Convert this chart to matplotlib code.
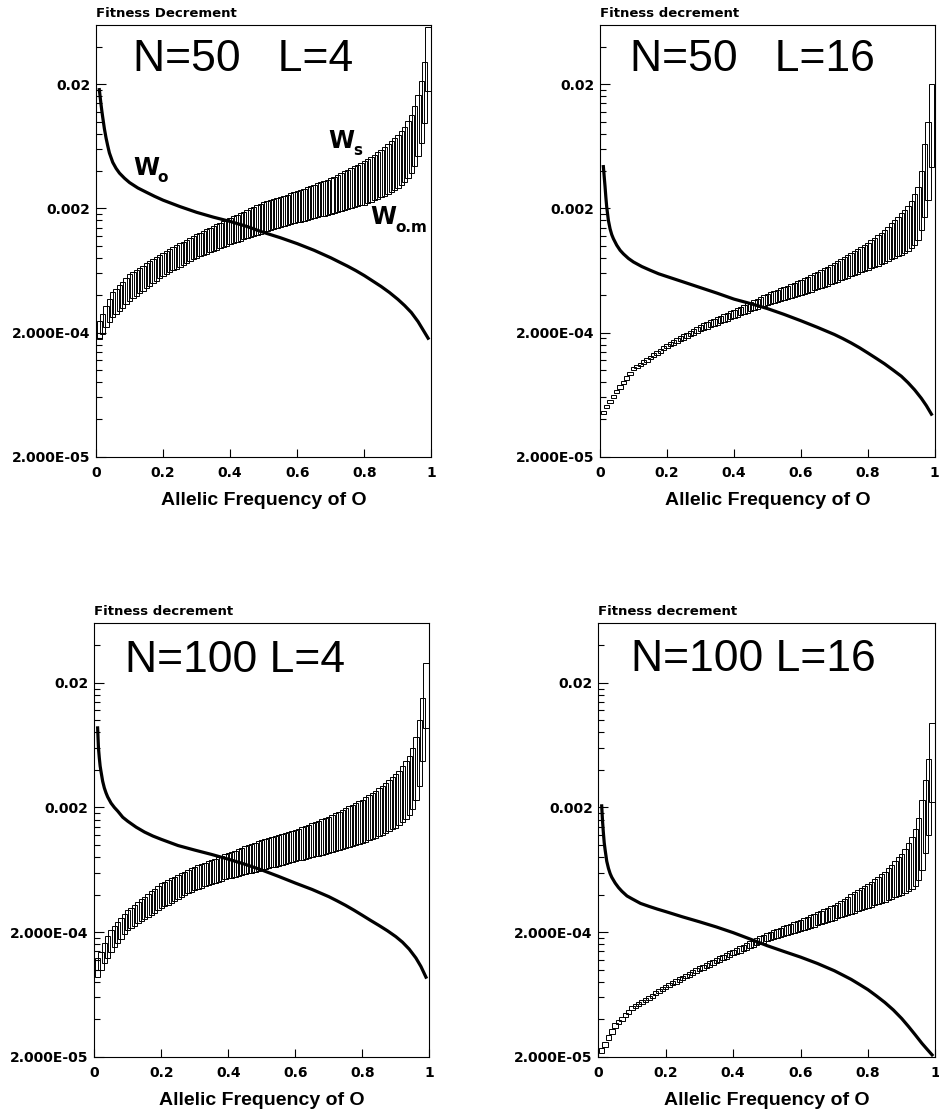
import numpy as np
import matplotlib
matplotlib.use("Agg")
import matplotlib.pyplot as plt
from matplotlib.ticker import NullFormatter

plt.rcParams["font.family"] = ["DejaVu Sans"]

# ===================================
# Data
# ===================================

# allelic frequency of O, one box per 0.01
freq = np.round(np.arange(1, 100) * 0.01, 2)

# x positions where the W_o curve was read
wo_freq = [0.01, 0.0125, 0.015, 0.0175, 0.02, 0.025, 0.03, 0.035, 0.04, 0.05,
           0.06, 0.07, 0.085, 0.10, 0.125, 0.15, 0.175, 0.20, 0.25, 0.30,
           0.35, 0.40, 0.45, 0.50, 0.55, 0.60, 0.65, 0.70, 0.725, 0.75,
           0.775, 0.80, 0.825, 0.85, 0.875, 0.90, 0.92, 0.94, 0.96, 0.975,
           0.99]

# --- N=50 L=4 (values x1e-4) ---
ws_n50_l4 = [
    2.49, 2.82, 3.28, 3.75, 4.21, 4.51, 4.82, 5.15, 5.51, 5.90,
    6.14, 6.39, 6.65, 6.93, 7.21, 7.50, 7.81, 8.13, 8.46, 8.81,
    9.12, 9.43, 9.76, 10.10, 10.45, 10.82, 11.19, 11.58, 11.99, 12.40,
    12.78, 13.18, 13.58, 14.00, 14.43, 14.87, 15.33, 15.80, 16.29, 16.80,
    17.29, 17.80, 18.32, 18.85, 19.40, 19.97, 20.55, 21.15, 21.77, 22.40,
    22.86, 23.34, 23.82, 24.31, 24.82, 25.33, 25.86, 26.39, 26.94, 27.50,
    28.17, 28.86, 29.56, 30.28, 31.02, 31.78, 32.55, 33.35, 34.16, 35.00,
    36.12, 37.28, 38.48, 39.72, 40.99, 42.31, 43.67, 45.07, 46.51, 48.00,
    50.02, 52.12, 54.30, 56.60, 59.00, 62.4, 65.9, 69.7, 73.7, 78.0,
    84, 91, 101, 114, 133, 163, 212, 305, 580]
wom_n50_l4 = [
    1.78, 1.95, 2.20, 2.43, 2.65, 2.82, 3.00, 3.18, 3.38, 3.60,
    3.77, 3.95, 4.14, 4.33, 4.54, 4.75, 4.98, 5.21, 5.46, 5.72,
    5.92, 6.12, 6.33, 6.55, 6.78, 7.02, 7.26, 7.51, 7.77, 8.04,
    8.24, 8.45, 8.66, 8.88, 9.10, 9.33, 9.56, 9.80, 10.05, 10.30,
    10.53, 10.76, 11.00, 11.24, 11.48, 11.74, 12.00, 12.26, 12.53, 12.80,
    13.04, 13.28, 13.53, 13.78, 14.04, 14.30, 14.57, 14.84, 15.12, 15.40,
    15.65, 15.91, 16.17, 16.43, 16.70, 16.97, 17.25, 17.53, 17.81, 18.10,
    18.41, 18.74, 19.06, 19.40, 19.73, 20.08, 20.43, 20.78, 21.14, 21.50,
    22.07, 22.66, 23.26, 23.87, 24.50, 25.4, 26.3, 27.3, 28.3, 29.3,
    30.6, 32.7, 35.3, 38.7, 44.0, 52.6, 67.5, 97.5, 178]
wo_n50_l4 = [
    181, 158, 138, 122, 109, 88, 74, 64, 56, 47,
    42, 38.5, 35, 32.3, 29.2, 27.0, 25.0, 23.3, 20.7, 18.6,
    17.0, 15.7, 14.3, 12.8, 11.6, 10.4, 9.2, 8.0, 7.4, 6.85,
    6.3, 5.75, 5.2, 4.7, 4.2, 3.7, 3.3, 2.9, 2.45, 2.1,
    1.8]

# --- N=50 L=16 (values x1e-5) ---
ws_n50_l16 = [
    4.65, 5.25, 5.70, 6.28, 6.90, 7.50, 8.16, 8.88, 9.66, 10.5,
    10.97, 11.45, 11.96, 12.49, 13.04, 13.62, 14.22, 14.85, 15.51, 16.2,
    16.78, 17.38, 18.0, 18.64, 19.31, 20.0, 20.71, 21.45, 22.22, 23.0,
    23.66, 24.33, 25.03, 25.75, 26.48, 27.24, 28.02, 28.82, 29.65, 30.5,
    31.42, 32.36, 33.33, 34.33, 35.36, 36.42, 37.51, 38.64, 39.8, 41.0,
    42.07, 43.16, 44.28, 45.43, 46.62, 47.83, 49.07, 50.35, 51.66, 53.0,
    54.65, 56.35, 58.1, 59.91, 61.77, 63.69, 65.67, 67.71, 69.82, 72.0,
    74.77, 77.65, 80.64, 83.74, 86.97, 90.31, 93.79, 97.4, 101.1, 105,
    110.3, 115.8, 121.6, 127.6, 134, 142.5, 151.5, 161, 171.2, 182,
    195, 210, 230, 260, 300, 400, 660, 1000, 2000]
wom_n50_l16 = [
    4.40, 4.90, 5.40, 5.93, 6.50, 7.07, 7.69, 8.37, 9.10, 9.90,
    10.32, 10.76, 11.22, 11.69, 12.19, 12.71, 13.25, 13.81, 14.39, 15.0,
    15.48, 15.96, 16.47, 16.99, 17.53, 18.09, 18.66, 19.25, 19.87, 20.5,
    21.01, 21.53, 22.06, 22.61, 23.17, 23.74, 24.33, 24.94, 25.56, 26.2,
    26.85, 27.52, 28.2, 28.91, 29.62, 30.36, 31.12, 31.89, 32.68, 33.5,
    34.1, 34.71, 35.33, 35.96, 36.61, 37.26, 37.93, 38.61, 39.3, 40.0,
    40.9, 41.83, 42.78, 43.74, 44.73, 45.74, 46.78, 47.83, 48.91, 50.0,
    51.25, 52.53, 53.84, 55.19, 56.57, 57.98, 59.43, 60.92, 62.44, 64.0,
    65.7, 67.45, 69.25, 71.09, 73.0, 75.3, 77.6, 80.0, 82.4, 85.0,
    88, 91, 96, 102, 111, 134, 172, 235, 430]
wo_n50_l16 = [
    434, 360, 300, 245, 205, 160, 137, 123, 114, 101,
    92, 86, 79, 74, 68, 63.5, 59.5, 56.5, 51, 46,
    41.5, 37.2, 34.2, 31.2, 28.0, 24.9, 22.0, 19.3, 17.9, 16.5,
    15.1, 13.7, 12.4, 11.2, 10.0, 8.9, 7.9, 6.9, 5.9, 5.15,
    4.4]

# --- N=100 L=4 (W_s x1e-4, W_o.m and W_o x1e-5) ---
ws_n100_l4 = [
    1.23, 1.39, 1.63, 1.86, 2.08, 2.24, 2.41, 2.59, 2.79, 3.00,
    3.15, 3.31, 3.48, 3.66, 3.85, 4.05, 4.26, 4.47, 4.70, 4.94,
    5.09, 5.25, 5.41, 5.58, 5.76, 5.93, 6.12, 6.31, 6.50, 6.70,
    6.87, 7.04, 7.22, 7.40, 7.59, 7.78, 7.98, 8.18, 8.39, 8.60,
    8.81, 9.03, 9.26, 9.49, 9.73, 9.97, 10.22, 10.47, 10.73, 11.0,
    11.2, 11.41, 11.62, 11.83, 12.05, 12.27, 12.5, 12.73, 12.96, 13.2,
    13.53, 13.87, 14.22, 14.57, 14.94, 15.31, 15.69, 16.09, 16.49, 16.9,
    17.44, 17.99, 18.56, 19.15, 19.76, 20.38, 21.03, 21.7, 22.39, 23.1,
    24.09, 25.12, 26.2, 27.32, 28.5, 30.0, 31.6, 33.3, 35.1, 37.0,
    39.5, 43, 47, 52, 60, 73, 100, 152, 286]
wom_n100_l4 = [
    8.8, 9.9, 11.2, 12.5, 13.9, 15.07, 16.33, 17.7, 19.19, 20.8,
    21.65, 22.54, 23.46, 24.42, 25.42, 26.47, 27.55, 28.68, 29.86, 31.1,
    32.18, 33.29, 34.44, 35.63, 36.87, 38.14, 39.46, 40.83, 42.24, 43.7,
    44.64, 45.59, 46.57, 47.56, 48.58, 49.62, 50.68, 51.76, 52.87, 54.0,
    54.84, 55.69, 56.55, 57.43, 58.32, 59.22, 60.14, 61.07, 62.03, 63.0,
    64.02, 65.06, 66.11, 67.18, 68.27, 69.38, 70.5, 71.64, 72.81, 74.0,
    75.12, 76.27, 77.42, 78.6, 79.79, 81.0, 82.23, 83.48, 84.73, 86.0,
    87.65, 89.34, 91.05, 92.8, 94.58, 96.4, 98.25, 100.1, 102.0, 104.0,
    106.5, 109.0, 111.6, 114.3, 117, 120.9, 125.0, 129.2, 133.5, 138,
    145, 152, 162, 175, 195, 230, 300, 470, 870]
wo_n100_l4 = [
    870, 600, 500, 430, 390, 325, 287, 262, 243, 217,
    200, 187, 167, 155, 139, 127, 118, 111, 99, 91,
    84, 77, 70, 63, 56, 49.5, 44, 38.5, 35.6, 32.8,
    30, 27.3, 24.8, 22.6, 20.5, 18.4, 16.6, 14.6, 12.4, 10.6,
    8.7]

# --- N=100 L=16 (values x1e-5) ---
ws_n100_l16 = [
    2.33, 2.64, 2.98, 3.33, 3.70, 3.94, 4.19, 4.46, 4.75, 5.06,
    5.27, 5.48, 5.70, 5.94, 6.18, 6.43, 6.69, 6.97, 7.25, 7.55,
    7.81, 8.08, 8.36, 8.65, 8.95, 9.25, 9.57, 9.90, 10.25, 10.6,
    10.94, 11.28, 11.64, 12.01, 12.4, 12.79, 13.2, 13.62, 14.05, 14.5,
    14.95, 15.42, 15.9, 16.39, 16.9, 17.43, 17.97, 18.53, 19.1, 19.7,
    20.19, 20.69, 21.21, 21.74, 22.28, 22.83, 23.4, 23.98, 24.58, 25.2,
    25.91, 26.65, 27.4, 28.18, 28.97, 29.79, 30.63, 31.5, 32.39, 33.3,
    34.56, 35.86, 37.21, 38.61, 40.07, 41.58, 43.15, 44.77, 46.46, 48.2,
    50.53, 52.97, 55.53, 58.21, 61.0, 65.2, 69.7, 74.4, 79.5, 85.0,
    93, 103, 115, 135, 165, 230, 330, 490, 960]
wom_n100_l16 = [
    2.13, 2.40, 2.72, 3.05, 3.40, 3.63, 3.87, 4.13, 4.41, 4.70,
    4.89, 5.09, 5.30, 5.51, 5.74, 5.97, 6.21, 6.46, 6.73, 7.0,
    7.23, 7.47, 7.72, 7.98, 8.24, 8.52, 8.8, 9.09, 9.39, 9.7,
    9.99, 10.28, 10.59, 10.9, 11.23, 11.56, 11.9, 12.26, 12.62, 13.0,
    13.35, 13.7, 14.07, 14.44, 14.82, 15.22, 15.62, 16.04, 16.46, 16.9,
    17.21, 17.53, 17.86, 18.19, 18.52, 18.87, 19.22, 19.57, 19.93, 20.3,
    20.74, 21.2, 21.67, 22.14, 22.63, 23.12, 23.63, 24.14, 24.67, 25.2,
    25.75, 26.32, 26.89, 27.48, 28.08, 28.7, 29.33, 29.97, 30.63, 31.3,
    32.0, 32.73, 33.47, 34.23, 35.0, 35.95, 36.92, 37.92, 38.95, 40.0,
    41.5, 43, 44.5, 47, 52, 63, 87, 120, 220]
wo_n100_l16 = [
    206, 155, 125, 104, 92, 74, 65, 59, 55, 49.5,
    45.5, 42.5, 39, 37, 34, 32.2, 30.6, 29.2, 26.5, 24.2,
    22, 19.8, 17.6, 15.6, 14.0, 12.6, 11.2, 9.8, 9.05, 8.35,
    7.6, 6.9, 6.15, 5.45, 4.75, 4.05, 3.5, 3.0, 2.56, 2.3,
    2.07]

titles = ["N=50   L=4", "N=50   L=16", "N=100 L=4", "N=100 L=16"]
ylabels = ["Fitness Decrement", "Fitness decrement",
           "Fitness decrement", "Fitness decrement"]

y_major = [2e-5, 2e-4, 2e-3, 2e-2]
y_major_labels = ["2.000E-05", "2.000E-04", "0.002", "0.02"]
x_major = [0, 0.2, 0.4, 0.6, 0.8, 1]
x_major_labels = ["0", "0.2", "0.4", "0.6", "0.8", "1"]

# ===================================
# Figure
# ===================================

fig = plt.figure(figsize=(9.39, 11.12), dpi=100)

panels = [
    dict(rect=[0.1022, 0.5893, 0.3573, 0.3882], title_pos=(0.437, 0.8935),
         ws=np.array(ws_n50_l4) * 1e-4, wom=np.array(wom_n50_l4) * 1e-4,
         wo=np.array(wo_n50_l4) * 1e-4),
    dict(rect=[0.6390, 0.5893, 0.3565, 0.3882], title_pos=(0.456, 0.8935),
         ws=np.array(ws_n50_l16) * 1e-5, wom=np.array(wom_n50_l16) * 1e-5,
         wo=np.array(wo_n50_l16) * 1e-5),
    dict(rect=[0.1004, 0.0497, 0.3568, 0.3897], title_pos=(0.4215, 0.888),
         ws=np.array(ws_n100_l4) * 1e-4, wom=np.array(wom_n100_l4) * 1e-5,
         wo=np.array(wo_n100_l4) * 1e-5),
    dict(rect=[0.6372, 0.0497, 0.3590, 0.3897], title_pos=(0.4605, 0.890),
         ws=np.array(ws_n100_l16) * 1e-5, wom=np.array(wom_n100_l16) * 1e-5,
         wo=np.array(wo_n100_l16) * 1e-5),
]

y_minor = [k * b for b in (2e-5, 2e-4, 2e-3) for k in range(2, 10)] + [0.04]

axes = []
for i, p in enumerate(panels):
    ax = fig.add_axes(p["rect"])
    axes.append(ax)

    # hi-lo boxes between W_o.m (bottom) and W_s (top)
    ax.bar(freq, p["ws"] - p["wom"], bottom=p["wom"], width=0.016,
           fill=False, edgecolor="black", linewidth=0.7, zorder=2)
    # W_o curve
    ax.plot(wo_freq, p["wo"], color="black", linewidth=2.3, zorder=3)

    ax.set_yscale("log")
    ax.set_xlim(0, 1)
    ax.set_ylim(2e-5, 0.06)

    ax.set_yticks(y_major, labels=y_major_labels)
    ax.set_yticks(y_minor, minor=True)
    ax.yaxis.set_minor_formatter(NullFormatter())
    ax.set_xticks(x_major, labels=x_major_labels)

    ax.tick_params(which="both", direction="in", top=False, right=False,
                   width=0.8, labelsize=10)
    ax.tick_params(axis="y", which="major", length=7, pad=4)
    ax.tick_params(axis="y", which="minor", length=4)
    ax.tick_params(axis="x", which="major", length=6, pad=7)
    for lab in ax.get_xticklabels() + ax.get_yticklabels():
        lab.set_fontweight("bold")

    for s in ax.spines.values():
        s.set_linewidth(0.8)

    ax.set_ylabel(ylabels[i], rotation=0, ha="left", va="baseline",
                  fontsize=9.5, fontweight="bold")
    ax.yaxis.set_label_coords(0, 1.019)

    ax.set_xlabel("Allelic Frequency of O", family="Liberation Sans",
                  fontweight="bold", fontsize=14, va="baseline")
    ax.xaxis.set_label_coords(0.5, -0.111)

    ax.text(p["title_pos"][0], p["title_pos"][1], titles[i],
            transform=ax.transAxes, ha="center", va="baseline",
            fontsize=32, family="Liberation Sans")

# curve labels, first panel only: big W with a small subscript
ax = axes[0]
curve_labels = [(0.11, 0.00375, "o"), (0.693, 0.00615, "s"),
                (0.818, 0.00149, "o.m")]
for lx, ly, sub in curve_labels:
    ax.text(lx, ly, "W", fontsize=17, fontweight="bold", va="baseline")
    ax.annotate(sub, xy=(lx, ly), xytext=(18, -5.5),
                textcoords="offset points", fontsize=11, fontweight="bold",
                va="baseline")

fig.savefig("out.png", dpi=100)
